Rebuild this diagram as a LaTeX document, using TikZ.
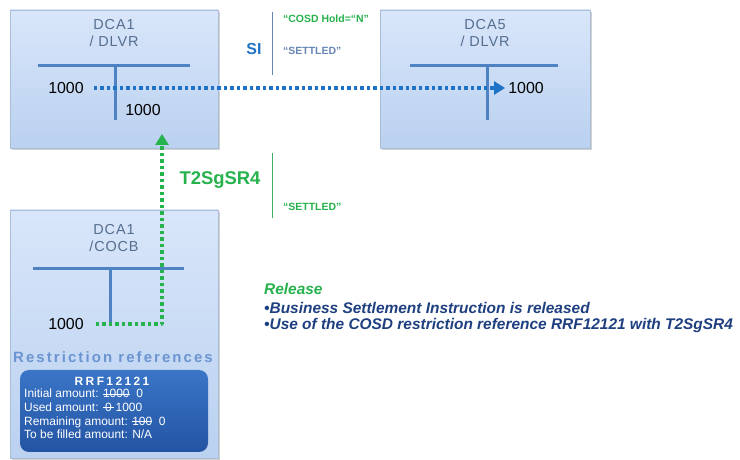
\documentclass[tikz,border=0pt]{standalone}
\usepackage{fontspec}
\setmainfont{Liberation Sans}
\usepackage{tikz}
\usetikzlibrary{arrows.meta,shadows}
\newsavebox\strkbox
\newcommand{\strk}[1]{\sbox\strkbox{#1}\rlap{\rule[0.3em]{\wd\strkbox}{0.9bp}}\usebox\strkbox}

\begin{document}
\begin{tikzpicture}[line join=bevel,
  acctbox/.style={draw=boxline, line width=0.8bp, top color=boxtop, bottom color=boxbot,
    inner sep=0pt, minimum width=208bp, minimum height=138bp,
    drop shadow={shadow xshift=1.5bp, shadow yshift=-2.5bp, opacity=0.35}},
  accttitle/.style={align=center, text=titlecol, inner sep=1bp,
    font=\fontsize{14.5}{16.5}\selectfont\addfontfeature{LetterSpace=6}},
  tline/.style={draw=tcol, line width=3bp},
  amount/.style={inner sep=2bp, font=\fontsize{16}{19}\selectfont},
  sidots/.style={draw=sicol, line width=3.5bp, dash pattern=on 3.5bp off 3bp,
    -{Triangle[length=11bp,width=13bp]}},
  t2dots/.style={draw=t2col, line width=3.5bp, dash pattern=on 3.5bp off 3bp,
    -{Triangle[length=11bp,width=13bp]}},
  sepline/.style={line width=1bp},
  smalltag/.style={anchor=west, inner sep=2bp, font=\bfseries\fontsize{10.5}{12}\selectfont},
  reltext/.style={anchor=west, inner sep=2bp, text=relcol,
    font=\bfseries\itshape\fontsize{15.5}{18}\selectfont},
  panelline/.style={anchor=base west, inner sep=0pt, text=white,
    font=\fontsize{12}{13}\selectfont},
]
\definecolor{boxline}{rgb}{0.66,0.74,0.84}
\definecolor{boxtop}{rgb}{0.85,0.90,0.98}
\definecolor{boxbot}{rgb}{0.73,0.82,0.94}
\definecolor{titlecol}{rgb}{0.33,0.43,0.56}
\definecolor{tcol}{rgb}{0.31,0.51,0.76}
\definecolor{sicol}{rgb}{0.12,0.45,0.78}
\definecolor{t2col}{rgb}{0.15,0.70,0.30}
\definecolor{sepblue}{rgb}{0.40,0.52,0.70}
\definecolor{sepgreen}{rgb}{0.25,0.68,0.40}
\definecolor{relcol}{rgb}{0.12,0.25,0.50}
\definecolor{refcol}{rgb}{0.42,0.58,0.82}
\definecolor{paneltop}{rgb}{0.23,0.46,0.78}
\definecolor{panelbot}{rgb}{0.14,0.33,0.64}
%%
\useasboundingbox (0bp,0bp) rectangle (740bp,460bp);
\fill[white] (0bp,0bp) rectangle (740bp,460bp);
% Node: DCA1 / DLVR
\node[acctbox] (dlvrA) at (114bp,381bp) {};
\node[accttitle] (dlvrAtitle) at (114bp,427bp) {DCA1\\/ DLVR};
\draw[tline] (38bp,394bp) -- (190bp,394bp);
\draw[tline] (115bp,394bp) -- (115bp,340bp);
\node[amount] (amtA) at (66bp,372bp) {1000};
\node[amount] (amtB) at (143bp,350bp) {1000};
% Node: DCA5 / DLVR
\node[acctbox, minimum width=210bp] (dlvrB) at (485bp,381bp) {};
\node[accttitle] (dlvrBtitle) at (485bp,427bp) {DCA5\\/ DLVR};
\draw[tline] (410bp,394bp) -- (558bp,394bp);
\draw[tline] (487bp,394bp) -- (487bp,340bp);
\node[amount] (amtC) at (526bp,372bp) {1000};
% Node: DCA1 /COCB
\node[acctbox, minimum height=248bp] (cocb) at (114bp,126bp) {};
\node[accttitle] (cocbtitle) at (114bp,222bp) {DCA1\\/COCB};
\draw[tline] (33bp,191bp) -- (184bp,191bp);
\draw[tline] (110bp,191bp) -- (110bp,137bp);
\node[amount] (amtD) at (66bp,136bp) {1000};
% Node: restriction references
\node[text=refcol, inner sep=0pt,
  font=\bfseries\fontsize{15}{18}\selectfont\addfontfeature{LetterSpace=14}]
  (reflbl) at (113bp,103bp) {Restriction references};
\node[top color=paneltop, bottom color=panelbot, rounded corners=9bp,
  minimum width=188bp, minimum height=82bp, inner sep=0pt] (rrfpanel) at (114bp,49bp) {};
\node[text=white, inner sep=0pt,
  font=\bfseries\fontsize{12}{14}\selectfont\addfontfeature{LetterSpace=20}]
  (rrfname) at (112bp,79bp) {RRF12121};
\node[panelline] (rrfinit) at (24bp,62bp) {Initial amount: \strk{1000}\ \ 0};
\node[panelline] (rrfused) at (24bp,48.5bp) {Used amount: \strk{\,0\,}\,1000};
\node[panelline] (rrfrem) at (24bp,35bp) {Remaining amount: \strk{100}\ \ 0};
\node[panelline] (rrffill) at (24bp,21.5bp) {To be filled amount: N/A};
% Node: SI
\node[text=sicol, font=\bfseries\fontsize{16}{19}\selectfont] (silbl) at (254bp,411bp) {SI};
\draw[sepline, draw=sepblue] (272bp,448bp) -- (272bp,385bp);
\node[smalltag, text=t2col] (holdlbl) at (281bp,441bp) {“COSD Hold=“N”};
\node[smalltag, text=sepblue] (settledA) at (281bp,409bp) {“SETTLED”};
% Node: T2SgSR4
\node[text=t2col, font=\bfseries\fontsize{18.5}{21}\selectfont] (t2lbl) at (220bp,280bp) {T2SgSR4};
\draw[sepline, draw=sepgreen] (272bp,307bp) -- (272bp,242bp);
\node[smalltag, text=t2col] (settledB) at (281bp,253bp) {“SETTLED”};
% Node: release
\node[reltext, text=t2col] (relhead) at (262bp,171bp) {Release};
\node[reltext] (relone) at (262bp,152bp) {\textbullet Business Settlement Instruction is released};
\node[reltext] (reltwo) at (262bp,134bp) {\textbullet Use of the COSD restriction reference RRF12121 with T2SgSR4};
% Edge: amtA -> amtC
\draw[sidots, shorten <=8bp, shorten >=1bp] (amtA.east) -- (amtC.west);
% Edge: amtD -> dlvrA
\coordinate (relin) at (162bp,326bp);
\draw[t2dots, shorten <=10bp] (amtD.east) -| (relin);
%
\end{tikzpicture}
\end{document}
